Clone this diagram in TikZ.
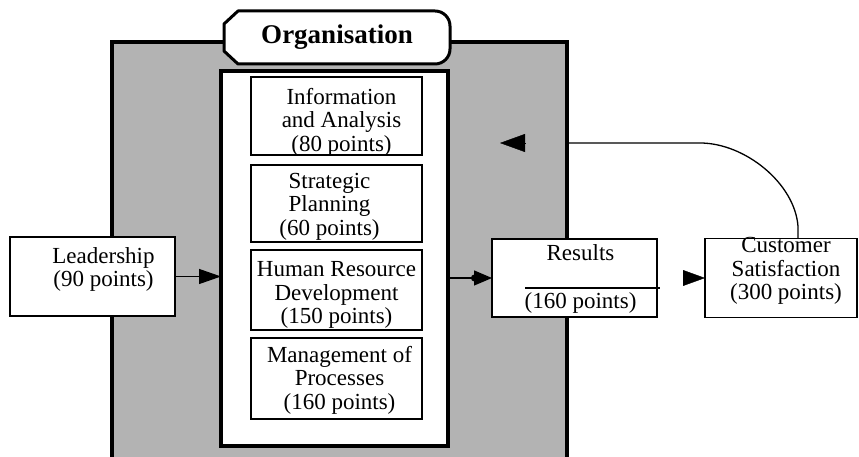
\documentclass[tikz,border=0pt]{standalone}
\usepackage{fontspec}
\setmainfont{Liberation Serif}
\usetikzlibrary{positioning, arrows.meta}
\definecolor{panelgrey}{RGB}{179,179,179}
\newcommand{\critbox}[4]{\node[crit, #3, label={[crittext, shift={#4}]center:{#2}}] (#1) {};}
\newcommand{\flowedge}[3]{\draw [#3] (#1) -- (#2);}

\begin{document}
\begin{tikzpicture}[x=1pt, y=1pt, font=\fontsize{23}{23.5}\selectfont,
  crit/.style={draw, fill=white, line width=1.7pt, outer sep=0pt, inner sep=0pt, minimum width=171pt},
  crittext/.style={align=center, inner sep=0pt},
  heavy/.style={draw, line width=3.5pt, outer sep=0pt},
  flow/.style={line width=1.3pt, -{Triangle[length=22pt, width=15pt]}},
  tip/.style={-{Triangle[length=#1, width=0.72*#1]}},
  tip/.default=22pt]
\useasboundingbox (0,0) rectangle (859,457);

% the organisation panel and its frame
\node[heavy, fill=panelgrey, minimum width=455pt, minimum height=425pt] (orgpanel) at (339.5,202.5) {};
\filldraw[fill=white, line width=3pt, line join=round] (238,446) -- (435,446) arc[start angle=90, end angle=0, radius=15pt]
  -- (450,408) arc[start angle=0, end angle=-90, radius=15pt] -- (238,393) -- (224,406) -- (224,433) -- cycle;
\node[font=\bfseries\fontsize{27}{30}\selectfont] (orgtitle) at (337,419.5) {Organisation};
\node[heavy, fill=white, minimum width=227pt, minimum height=375pt] (orgframe) at (334.5,198.5) {};

\critbox{info}{Information\\and Analysis\\(80 points)}{at={(336.5,341)}, minimum height=78pt}{(5pt,-6pt)}
\critbox{strat}{Strategic\\Planning\\(60 points)}{below=10pt of info, minimum height=77pt}{(-7pt,-3pt)}
\critbox{human}{Human Resource\\Development\\(150 points)}{below=8pt of strat, minimum height=80pt}{(0pt,-5pt)}
\critbox{process}{Management of\\Processes\\(160 points)}{below=8pt of human, minimum height=81pt}{(3pt,-1.5pt)}

\critbox{lead}{Leadership\\(90 points)}{at={(92.5,180.5)}, minimum width=165pt, minimum height=79pt, line width=1.5pt}{(11pt,7pt)}
\critbox{res}{Results\\[24.5pt](160 points)}{at={(574.5,179)}, minimum width=165pt, minimum height=78pt, line width=1.5pt}{(6pt,-1pt)}
\critbox{cust}{Customer\\Satisfaction\\(300 points)}{right=48pt of res, minimum width=152pt, minimum height=79pt, line width=1.5pt}{(5pt,7pt)}
\draw[line width=1.3pt] ([shift={(33pt,-10pt)}]res.west) -- ([shift={(3pt,-10pt)}]res.east);

% connectors
\flowedge{lead.east}{lead.east -| orgframe.west}{flow}
\flowedge{orgframe.east |- res.west}{res.west}{line width=1.3pt, -{Circle[length=7pt, sep=-4pt] Triangle[length=18pt, width=15pt]}}
\coordinate (gap) at ([xshift=-22pt]cust.west);
\flowedge{gap}{cust.west}{tip}

% feedback from the customers
\coordinate (fbtop) at ([xshift=17pt]cust.north);
\coordinate (fbturn) at (700,314);
\draw[line width=1.3pt] (fbtop) -- ++(0,12) .. controls +(-3,43) and (745,314) .. (fbturn) -- (orgpanel.east |- fbturn);
\coordinate (fbhead) at (525,314);
\coordinate (fbtip) at (500,314);
\flowedge{fbhead}{fbtip}{tip=25pt}
\end{tikzpicture}
\end{document}
